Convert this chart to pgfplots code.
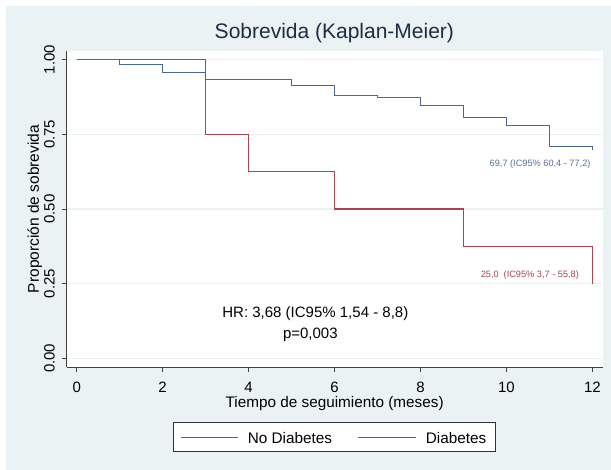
\documentclass[border=0pt]{standalone}
\usepackage{fontspec}
\setmainfont{Liberation Sans}
\usepackage{pgfplots}
\pgfplotsset{compat=1.18}
\definecolor{bgc}{RGB}{234,242,243}
\definecolor{kmblue}{RGB}{68,106,145}
\definecolor{kmred}{RGB}{176,66,76}
\definecolor{annblue}{RGB}{85,115,150}
\definecolor{annred}{RGB}{165,70,78}
\definecolor{titlec}{RGB}{30,45,70}
\begin{document}
\begin{tikzpicture}
\useasboundingbox (0,0) rectangle (611pt,470pt);
\fill[white] (0,0) rectangle (611pt,470pt);
\fill[bgc] (6pt,0) rectangle (611pt,464pt);
\begin{axis}[
  at={(66.7pt,102.7pt)}, anchor=south west,
  scale only axis, width=536pt, height=316.6pt,
  xmin=-0.233, xmax=12.24, ymin=-0.030, ymax=1.030,
  axis x line=bottom, axis y line=left,
  axis line style={-, color=black!75, line width=0.8pt},
  axis background/.style={fill=white},
  tick align=outside, major tick length=5pt,
  tick style={color=black!75, line width=0.8pt},
  xtick={0,2,...,12}, ytick={0,0.25,0.5,0.75,1},
  /pgf/number format/assume math mode=true,
  yticklabel style={rotate=90, anchor=south, inner sep=1pt, /pgf/number format/.cd, fixed, fixed zerofill, precision=2},
  xticklabel style={inner sep=1pt},
  ticklabel style={font=\fontsize{15}{18}\selectfont},
  xticklabel shift=8.4pt, yticklabel shift=5.7pt,
  ymajorgrids, major grid style={color=bgc, line width=1.3pt},
  title={Sobrevida (Kaplan-Meier)},
  title style={at={(0.4994,1.018)}, anchor=base, font=\fontsize{21}{25}\selectfont, text=titlec, inner sep=0pt},
  xlabel={Tiempo de seguimiento (meses)},
  xlabel style={at={(axis description cs:0.5,-0.1263)}, anchor=base, font=\fontsize{15.3}{18}\selectfont, inner sep=0pt},
  ylabel={Proporción de sobrevida},
  ylabel style={at={(axis description cs:-0.0517,0.5)}, anchor=base, rotate=0, font=\fontsize{15.5}{18}\selectfont, inner sep=0pt},
]
\addplot[const plot, color=kmblue, line width=1.1pt] coordinates {
  (0,1) (1,0.984) (2,0.957) (3,0.933) (5,0.914) (6,0.880) (7,0.873)
  (8,0.847) (9,0.805) (10,0.779) (11,0.708) (12,0.697)};
\addplot[const plot, color=kmred, line width=1.1pt] coordinates {
  (0,1) (3,0.75) (4,0.625) (6,0.5) (9,0.375) (12,0.25)};
\node[anchor=east, text=annblue, font=\fontsize{9.2}{11}\selectfont, inner sep=0pt] at (axis cs:11.96,0.651) {69,7 (IC95\% 60,4 - 77,2)};
\node[anchor=east, text=annred, font=\fontsize{9.2}{11}\selectfont, inner sep=0pt] at (axis cs:11.69,0.278) {25,0\hspace{5pt}(IC95\% 3,7 - 55,8)};
\node[anchor=base, font=\fontsize{15}{18}\selectfont, inner sep=0pt] at (axis cs:5.553,0.1378) {HR: 3,68 (IC95\% 1,54 - 8,8)};
\node[anchor=base, font=\fontsize{15}{18}\selectfont, inner sep=0pt] at (axis cs:5.437,0.0649) {p=0,003};
\end{axis}
% legend
\fill[black!80] (173pt,18pt) rectangle (496pt,48pt);
\fill[white] (173.6pt,18.6pt) rectangle (495.4pt,47.4pt);
\fill[kmblue] (180.7pt,31.9pt) rectangle (238.3pt,33.1pt);
\fill[kmred] (358.3pt,31.9pt) rectangle (416pt,33.1pt);
\node[anchor=base west, inner sep=0pt, font=\fontsize{15.3}{18}\selectfont] at (247.7pt,26.7pt) {No Diabetes};
\node[anchor=base west, inner sep=0pt, font=\fontsize{15.3}{18}\selectfont] at (425.7pt,26.7pt) {Diabetes};
\end{tikzpicture}
\end{document}
